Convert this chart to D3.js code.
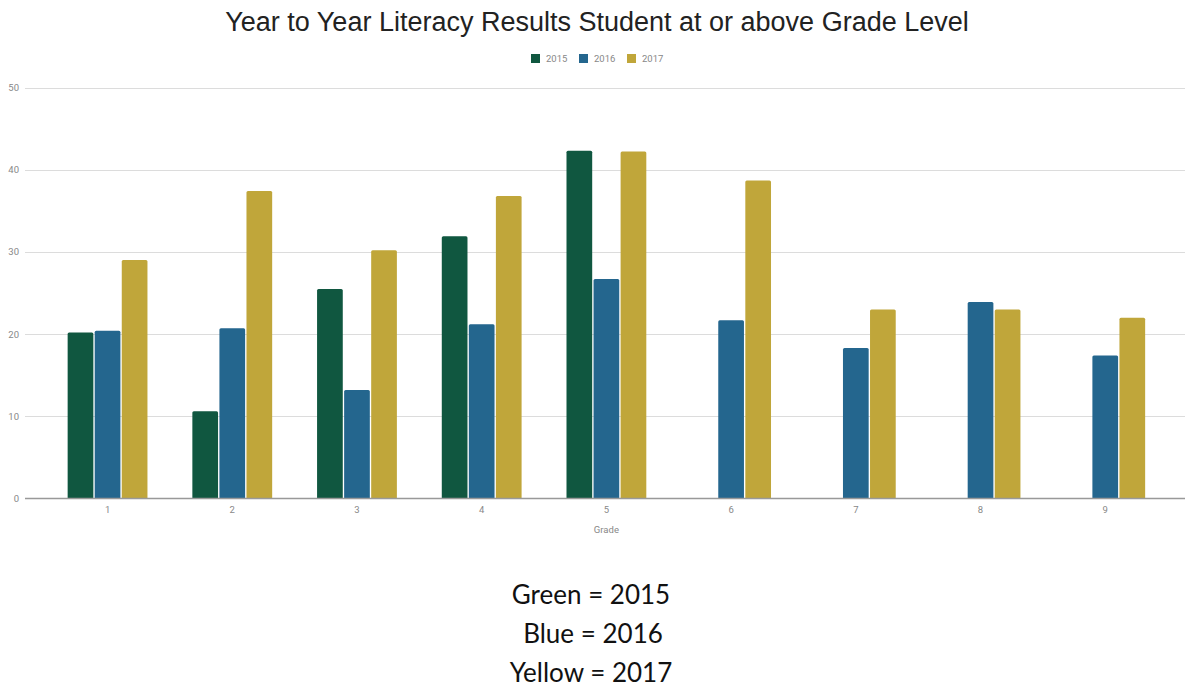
<!DOCTYPE html>
<html>
<head>
<meta charset="utf-8">
<script src="https://cdn.jsdelivr.net/npm/d3@7"></script>
<style>
  html, body { margin: 0; padding: 0; background: #fff; }
  svg { display: block; }
</style>
</head>
<body>
<svg id="chart" width="1185" height="688"></svg>
<script>
const grades = ["1", "2", "3", "4", "5", "6", "7", "8", "9"];
const seriesNames = ["2015", "2016", "2017"];
const values2015 = [20.2, 10.6, 25.5, 31.9, 42.3, 0, 0, 0, 0];
const values2016 = [20.4, 20.7, 13.2, 21.2, 26.7, 21.7, 18.3, 23.9, 17.4];
const values2017 = [29.0, 37.4, 30.2, 36.8, 42.2, 38.7, 23.0, 23.0, 22.0];
const yTicks = [0, 10, 20, 30, 40, 50];
const colors = ["#105740", "#24668e", "#c0a63a"];
const titleText = "Year to Year Literacy Results Student at or above Grade Level";
const xTitle = "Grade";
const noteLines = ["Green = 2015", "Blue = 2016", "Yellow = 2017"];

const seriesValues = [values2015, values2016, values2017];
const svg = d3.select("#chart");

const y = d3.scaleLinear().domain([0, 50]).range([498.5, 87.5]);
const x0 = d3.scaleBand().domain(grades).range([45.2, 1167.6]).paddingInner(0.36).paddingOuter(0.18);
const x1 = d3.scaleBand().domain(seriesNames).range([0, x0.bandwidth()]).paddingInner(0.05);

// gridlines
svg.append("g")
  .selectAll("line")
  .data(yTicks.filter(d => d !== 0))
  .join("line")
  .attr("x1", 25).attr("x2", 1185)
  .attr("y1", d => Math.round(y(d)) + 0.5).attr("y2", d => Math.round(y(d)) + 0.5)
  .attr("stroke", "#dcdcdc").attr("stroke-width", 1);

// y axis labels
const yAxis = d3.axisLeft(y).tickValues(yTicks).tickSize(0).tickPadding(0);
svg.append("g")
  .attr("transform", "translate(19,0)")
  .call(yAxis)
  .call(g => g.select(".domain").remove())
  .call(g => g.selectAll("text")
    .attr("fill", "#888")
    .attr("font-family", "Roboto, sans-serif")
    .attr("font-size", "9.5px"));

// bars
const groups = svg.append("g")
  .selectAll("g")
  .data(grades.map((g, i) => ({ grade: g, vals: seriesNames.map((s, j) => ({ s, j, v: seriesValues[j][i] })) })))
  .join("g")
  .attr("transform", d => `translate(${x0(d.grade)},0)`);

groups.selectAll("path")
  .data(d => d.vals.filter(e => e.v > 0))
  .join("path")
  .attr("fill", d => colors[d.j])
  .attr("d", d => {
    const bx = x1(d.s), bw = x1.bandwidth(), top = y(d.v), bot = y(0), r = 1.5;
    return `M${bx},${bot} L${bx},${top + r} Q${bx},${top} ${bx + r},${top} L${bx + bw - r},${top} Q${bx + bw},${top} ${bx + bw},${top + r} L${bx + bw},${bot} Z`;
  });

// x axis
const xAxis = d3.axisBottom(x0).tickSize(0).tickPadding(8);
svg.append("g")
  .attr("transform", `translate(0,${y(0)})`)
  .call(xAxis)
  .call(g => g.select(".domain").remove())
  .call(g => g.selectAll("text")
    .attr("fill", "#888")
    .attr("font-family", "Roboto, sans-serif")
    .attr("font-size", "9.5px"));

svg.append("line")
  .attr("x1", 25).attr("x2", 1185)
  .attr("y1", 498.5).attr("y2", 498.5)
  .attr("stroke", "#999").attr("stroke-width", 1.3);

// x title
svg.append("text")
  .attr("x", x0.range()[0] + (x0.range()[1] - x0.range()[0]) / 2)
  .attr("y", 533)
  .attr("text-anchor", "middle")
  .attr("fill", "#888")
  .attr("font-family", "Roboto, sans-serif")
  .attr("font-size", "9.5px")
  .text(xTitle);

// title
svg.append("text")
  .attr("x", 597)
  .attr("y", 31)
  .attr("text-anchor", "middle")
  .attr("fill", "#222")
  .attr("font-family", "Liberation Sans, Arial, sans-serif")
  .attr("font-size", "27px")
  .text(titleText);

// legend
const legendX = [531, 579, 627];
const legend = svg.append("g")
  .selectAll("g")
  .data(seriesNames)
  .join("g")
  .attr("transform", (d, i) => `translate(${legendX[i]},54)`);
legend.append("rect").attr("width", 9).attr("height", 9).attr("fill", (d, i) => colors[i]);
legend.append("text")
  .attr("x", 15).attr("y", 8)
  .attr("fill", "#888")
  .attr("font-family", "Roboto, sans-serif")
  .attr("font-size", "9.5px")
  .text(d => d);

// note lines
svg.append("g")
  .selectAll("text")
  .data(noteLines)
  .join("text")
  .attr("x", (d, i) => [591, 593, 591][i])
  .attr("y", (d, i) => 604 + i * 39)
  .attr("text-anchor", "middle")
  .attr("fill", "#111")
  .attr("font-family", "Lato, 'Open Sans', sans-serif")
  .attr("font-size", "26px")
  .text(d => d);
</script>
</body>
</html>
